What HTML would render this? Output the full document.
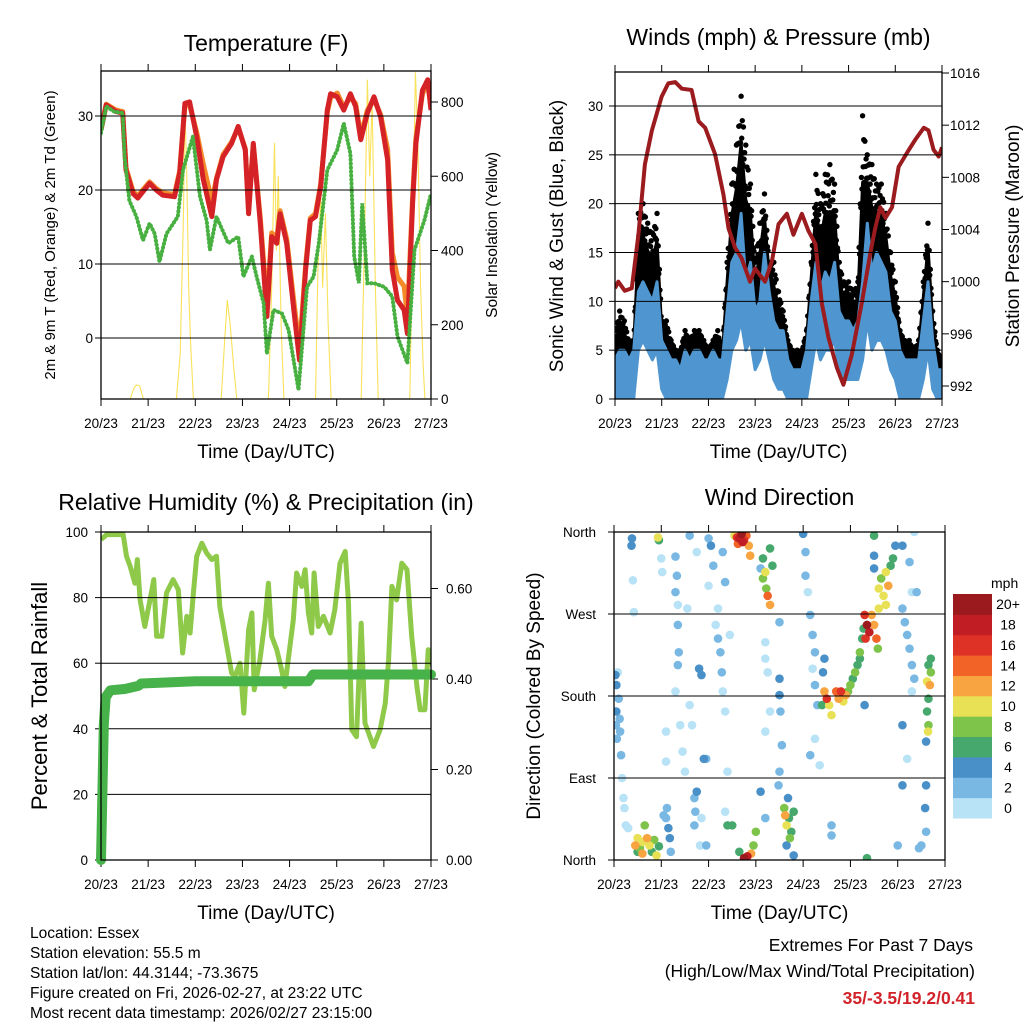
<!DOCTYPE html>
<html><head><meta charset="utf-8"><style>
html,body{margin:0;padding:0;background:#fff;}
svg{display:block;font-family:"Liberation Sans",Arial,sans-serif;}
</style></head><body>
<svg id="root" width="1024" height="1024" viewBox="0 0 1024 1024" xmlns="http://www.w3.org/2000/svg">
<g font-size="15.5" fill="#000">
<text x="30" y="938">Location: Essex</text>
<text x="30" y="958">Station elevation: 55.5 m</text>
<text x="30" y="978">Station lat/lon: 44.3144; -73.3675</text>
<text x="30" y="998">Figure created on Fri, 2026-02-27, at 23:22 UTC</text>
<text x="30" y="1018">Most recent data timestamp: 2026/02/27 23:15:00</text>
</g>
<g font-size="17.5" text-anchor="end">
<text x="973" y="951">Extremes For Past 7 Days</text>
<text x="975" y="977">(High/Low/Max Wind/Total Precipitation)</text>
<text x="975" y="1004" font-weight="bold" fill="#d2232a">35/-3.5/19.2/0.41</text>
</g>
</svg>
<script>
// ---- Temperature data ----
const redT=[0,0.11,0.32,0.46,0.53,0.68,0.78,1.03,1.17,1.31,1.56,1.67,1.78,1.88,2.03,2.17,2.35,2.45,2.59,2.77,2.91,3.06,3.13,3.23,3.38,3.52,3.62,3.73,3.80,3.94,4.09,4.21,4.34,4.44,4.55,4.66,4.80,4.87,5.01,5.15,5.29,5.40,5.51,5.65,5.79,5.93,6.08,6.18,6.29,6.43,6.50,6.61,6.68,6.82,6.93,7.0];
const redV=[28.1,31.5,30.6,30.4,22.7,19.5,18.9,20.9,20,19.3,19.1,22.3,31.7,31.9,27.2,21.4,16.4,21.4,24.5,26.3,28.6,25.4,16.8,26.3,15.5,2.9,13.7,12.8,16.8,12.8,3.8,-3,9.2,15.9,16.4,20.5,30.8,33,32.6,30.8,33,31.3,26.8,30.4,32.6,29.9,24.1,9.2,5.1,3.8,0.6,18.2,26.3,33.5,34.9,30.8];
const orangeV=[28.3,31.6,30.8,30.6,23,19.8,19.2,21.1,20.2,19.6,19.4,22.6,31.4,31.5,27.8,23.5,18.5,21.6,24.8,26.5,28.4,25.6,17.5,26.1,16.2,4.5,14.2,13.5,17.2,13.4,5,-1.5,9.8,16.2,16.8,20.8,30.5,32.5,33.1,31.2,32.5,31.7,27.3,30.8,32.2,30.2,25.5,11.5,8.2,7,3,19,27,33,34.5,31];
const tdT=[0,0.11,0.28,0.46,0.5,0.6,0.75,0.89,1.03,1.14,1.24,1.39,1.63,1.74,1.95,2.1,2.24,2.31,2.45,2.7,2.91,3.02,3.2,3.3,3.45,3.52,3.66,3.84,3.98,4.19,4.37,4.51,4.62,4.8,5.01,5.15,5.29,5.37,5.47,5.54,5.65,5.79,6.01,6.18,6.29,6.5,6.65,6.86,7.0];
const tdV=[27.7,31.3,30.6,30.4,24.5,18.6,16.4,13.2,15.5,14.1,10.3,14.1,16.4,22.7,27.2,19.1,15.9,11.9,16.4,12.8,13.7,8.3,11,8.3,4.7,-2.1,3.8,3.3,1.1,-7,6.9,8.3,12.8,22.7,25.4,29,24.9,11,7.4,18.2,7.4,7.4,6.9,5.6,0.2,-3.4,11.9,15.9,19.5];
const solarT=[0,0.62,0.7,0.75,0.82,0.9,1.6,1.68,1.75,1.78,1.82,1.86,1.9,1.96,2.55,2.62,2.68,2.74,2.82,2.88,3.55,3.62,3.68,3.72,3.76,3.82,3.88,4.55,4.6,4.66,4.7,4.76,4.82,4.88,5.52,5.6,5.65,5.7,5.75,5.82,5.88,6.55,6.62,6.67,6.72,6.78,6.83,6.87,7];
const solarV=[0,0,30,38,35,0,0,120,500,790,600,300,150,0,0,150,267,200,80,0,0,300,690,400,600,200,0,0,350,545,300,500,200,0,0,500,860,600,800,300,0,0,500,880,700,300,100,0,0];
const tempTicks=[0,10,20,30];
const solarTicks=[0,200,400,600,800];
const dayLabels=["20/23","21/23","22/23","23/23","24/23","25/23","26/23","27/23"];
// ---- Wind data (0.1 day steps) ----
const windHi=[4,5,5,4,5,11,12,11,10,12,6,5,4,4,3,5,4,5,5,4,4,5,4,4,9,14,15,19,12,14,9,10,15,11,8,7,7,4,3,3,3,5,10,14,11,13,12,14,9,8,8,7,8,12,18,13,15,14,13,9,8,5,4,4,4,4,8,12,6,3,3];
const windLo=[0,0,0,0,0,5,6,5,4,5,1,0,0,0,0,0,0,0,0,0,0,0,0,0,2,5,6,8,5,6,3,4,6,4,2,1,1,0,0,0,0,0,3,6,4,5,5,6,3,2,2,2,2,4,8,5,6,6,5,3,2,0,0,0,0,0,2,5,1,0,0];
const gustHi=[7,9,8,6,6,19,20,18,17,19,8,8,6,5,5,7,6,7,7,6,5,6,7,5,14,22,26,31,26,22,14,18,21,14,14,11,9,6,5,5,5,7,14,23,20,23,24,22,14,12,12,11,12,29,25,24,22,22,19,15,12,7,6,6,5,6,12,18,9,5,4];
const presT=[0,0.07,0.21,0.36,0.5,0.64,0.79,1.0,1.14,1.29,1.43,1.64,1.79,1.93,2.14,2.32,2.43,2.57,2.71,2.89,3.0,3.21,3.36,3.5,3.68,3.82,4.0,4.14,4.29,4.43,4.57,4.75,4.89,5.07,5.29,5.46,5.57,5.68,5.79,5.93,6.07,6.29,6.43,6.61,6.71,6.82,6.93,7.0];
const presV=[999.5,1000,999.3,999.5,1003.6,1009,1011.6,1014.2,1015.2,1015.3,1014.8,1014.7,1012.3,1011.8,1009.8,1006.7,1004.1,1002.6,1001.8,1000,1001,1000,1001.6,1004.4,1005.2,1003.6,1005.2,1003.9,1002.9,998.3,995.7,993.4,992.1,994.4,998.5,1002.1,1004.1,1005.7,1004.9,1005.7,1008.8,1010.1,1010.9,1011.8,1011.6,1010.1,1009.6,1010.3];
const windTicks=[0,5,10,15,20,25,30];
const presTicks=[992,996,1000,1004,1008,1012,1016];
// ---- RH / precip ----
const rhT=[0,0.12,0.47,0.54,0.62,0.72,0.77,0.83,0.93,1.04,1.12,1.18,1.29,1.39,1.53,1.64,1.73,1.82,1.89,1.96,2.03,2.14,2.24,2.35,2.45,2.52,2.67,2.77,2.84,2.95,3.03,3.13,3.2,3.25,3.37,3.48,3.55,3.62,3.73,3.83,3.9,3.97,4.08,4.15,4.26,4.33,4.4,4.47,4.52,4.61,4.72,4.86,4.96,5.07,5.18,5.25,5.32,5.42,5.52,5.6,5.78,5.92,6.03,6.1,6.17,6.27,6.38,6.49,6.59,6.7,6.77,6.87,6.94,6.98];
const rhV=[97.7,99.2,99.2,92.6,89.5,84.4,91.6,79.3,71.2,79.3,85.5,68.2,68.2,81.4,85.5,82.4,63.1,74.3,69.2,81.4,92.6,96.6,93.6,91.6,92.6,77.3,65.1,57,56,60,44.8,70.2,75.3,51.9,61,73.2,84.4,68.2,64.1,58,52.9,61,73.2,87.5,83.4,88.5,75.3,69.2,87.5,71.2,74.3,69.2,76.3,90.5,94.1,78.3,39.7,37.6,72.2,41.7,34.6,39.7,47.8,61,83.4,79.3,90.5,88.5,68.2,52.9,45.8,45.8,64.1,59];
const precipT=[0,0.03,0.06,0.1,0.2,0.5,0.8,0.85,1.5,2,4.4,4.5,7];
const precipV=[0,0.15,0.3,0.36,0.375,0.378,0.385,0.39,0.393,0.395,0.395,0.41,0.41];
const rhTicks=[0,20,40,60,80,100];
const precipTicks=[0,0.2,0.4,0.6];
// ---- Wind direction ----
const dirT=[0.03,0.05,0.05,0.04,0.06,0.1,0.12,0.15,0.17,0.2,0.22,0.25,0.08,0.13,0.45,0.5,0.55,0.6,0.65,0.7,0.75,0.8,0.85,0.9,0.95,0.6,0.5,0.93,0.95,0.38,0.37,0.4,0.42,1.0,1.02,1.3,1.33,1.3,1.35,1.35,1.37,1.35,1.3,1.4,1.45,1.5,1.1,1.1,1.12,1.1,1.15,1.18,1.2,1.05,1.55,1.6,1.65,1.7,1.72,1.75,1.7,1.8,1.85,1.9,1.85,1.82,1.95,1.95,1.6,1.75,2.0,2.05,2.0,2.1,2.15,2.2,2.25,2.28,2.3,2.35,2.2,2.3,2.35,2.4,2.35,2.4,2.55,2.6,2.65,2.7,2.75,2.8,2.85,2.88,2.62,2.72,2.75,2.82,2.9,2.95,2.65,2.5,3.0,3.15,3.2,3.15,3.22,3.25,3.3,3.3,3.35,3.1,3.2,3.2,3.25,3.3,3.2,3.1,3.2,3.5,3.5,3.52,3.55,3.5,3.48,3.5,3.6,3.62,3.65,3.7,3.75,3.72,3.8,3.65,3.8,3.68,4.0,4.05,4.05,4.1,4.15,4.2,4.25,4.2,4.25,4.3,4.25,4.15,4.35,4.45,4.42,4.45,4.5,4.55,4.6,4.7,4.75,4.8,4.85,4.9,4.95,5.0,5.05,5.1,5.15,5.2,5.2,5.25,4.4,5.3,5.3,5.35,5.4,5.32,5.45,5.5,5.55,5.6,5.58,5.28,5.6,5.7,5.75,5.65,5.8,5.85,5.9,5.5,5.5,5.5,5.75,5.95,6.1,6.15,6.2,6.25,6.3,6.35,6.3,6.1,6.2,6.1,6.35,6.25,6.3,6.4,6.1,6.0,6.45,5.35,6.65,6.7,6.62,6.68,6.7,6.65,6.62,6.65,6.64,6.6,6.6,6.58,6.6,4.6,4.6,0.3,2.45,6.5];
const dirV=[203,192,163,148,133,177,155,115,90,68,57,38,206,141,16,24,13,20,38,24,16,9,22,5,15,7,9,354,351,353,345,307,272,331,316,333,312,294,280,258,228,214,185,148,119,97,141,108,57,46,35,24,9,49,276,170,148,68,53,75,38,210,203,111,46,16,111,16,356,338,353,345,301,323,258,243,228,206,185,163,276,338,305,97,53,38,356,354,353,358,351,356,345,334,347,349,2,4,7,16,9,38,31,331,316,309,298,290,280,342,323,320,239,221,206,163,141,75,46,199,181,163,126,97,82,261,57,49,38,46,31,24,53,16,5,68,358,338,312,294,269,247,228,210,192,170,133,115,104,221,206,185,177,170,159,185,177,185,174,181,185,192,199,206,214,221,228,243,170,170,269,258,250,243,269,258,243,276,232,254,298,290,280,309,301,323,331,320,334,356,316,345,276,261,247,232,214,199,185,148,111,82,360,327,294,294,345,16,13,2,214,206,196,192,221,177,163,148,141,130,82,57,31,38,27,35,247,16];
const dirS=[4,4,4,3,3,2,2,2,1,1,1,1,1,3,12,10,8,10,8,12,10,6,8,10,6,12,6,10,6,4,4,1,1,1,1,3,2,2,1,2,2,3,1,1,1,1,1,1,2,3,4,4,2,2,0,1,1,3,3,4,2,4,4,4,1,1,2,3,2,1,3,4,1,2,1,2,2,2,1,1,0,2,3,1,1,6,10,16,18,20,16,14,12,12,14,18,20,18,12,8,6,6,8,6,10,8,8,14,12,6,6,3,1,1,1,1,1,4,3,4,4,2,3,2,3,3,8,12,10,6,6,8,6,4,4,4,4,2,2,1,2,2,2,1,2,2,1,2,1,4,4,12,16,10,10,14,12,16,10,12,8,8,6,8,6,6,8,6,6,4,16,20,18,16,12,12,14,10,8,6,10,10,10,8,12,6,6,4,4,6,10,4,2,3,2,3,2,3,1,4,1,4,1,2,1,3,4,2,2,6,6,8,10,12,6,6,6,8,10,4,4,4,2,3,3,1,1,2];
const speedColors=["#b8e2f6","#7ab8e4","#4a90c8","#46a86c","#7ec34a","#e8e155","#f8a541","#f26328","#de3227","#c01d25","#9a1a1e"];
const speedLabels=["0","2","4","6","8","10","12","14","16","18","20+"];
const dirTicks=[0,90,180,270,360];
const dirTickLabels=["North","East","South","West","North"];

const NS="http://www.w3.org/2000/svg";
const root=document.getElementById('root');
function el(tag,attrs,parent){const e=document.createElementNS(NS,tag);for(const k in attrs)e.setAttribute(k,attrs[k]);(parent||root).appendChild(e);return e;}
function txt(s,attrs,parent){const e=el('text',attrs,parent);e.textContent=s;return e;}
function lin(d0,d1,r0,r1){return v=>r0+(v-d0)*(r1-r0)/(d1-d0);}
function path(xs,ys,sx,sy){let d='';for(let i=0;i<xs.length;i++)d+=(i?'L':'M')+sx(xs[i]).toFixed(1)+','+sy(ys[i]).toFixed(1);return d;}

function panel(name,x0,y0,x1,y1,title,titleY){
  const g=el('g',{});
  
  
  const cp=el('clipPath',{id:name+'-clip'},g);
  el('rect',{x:x0,y:y0,width:x1-x0,height:y1-y0},cp);
  const t=txt(title,{x:(x0+x1)/2,y:titleY,'text-anchor':'middle','font-size':23},g);
  
  
  const sx=lin(0,7,x0,x1);
  for(let i=0;i<dayLabels.length;i++){
    const x=sx(i);
    el('line',{x1:x,y1:y1,x2:x,y2:y1+7,stroke:'#000','stroke-width':1},g);
    el('line',{x1:x,y1:y0,x2:x,y2:y0-7,stroke:'#000','stroke-width':1},g);
    const l=txt(dayLabels[i],{x:x,y:y1+29,'text-anchor':'middle','font-size':13.5},g);
    
    
  }
  const xt=txt('Time (Day/UTC)',{x:(x0+x1)/2,y:y1+59,'text-anchor':'middle','font-size':19},g);
  
  
  const data=el('g',{'clip-path':'url(#'+name+'-clip)'},g);
  return {g,sx,data,x0,y0,x1,y1};
}
function frame(p){el('rect',{x:p.x0,y:p.y0,width:p.x1-p.x0,height:p.y1-p.y0,fill:'none',stroke:'#000','stroke-width':1.3},p.g);}
function leftTicks(p,vals,labels,sy,grid,lx){
  vals.forEach((v,i)=>{const y=sy(v);
    if(grid && y>p.y0+1 && y<p.y1-1) el('line',{x1:p.x0,y1:y,x2:p.x1,y2:y,stroke:'#000','stroke-width':1},p.g);
    el('line',{x1:p.x0-6,y1:y,x2:p.x0,y2:y,stroke:'#000'},p.g);
    const t=txt(labels[i],{x:lx,y:y+5,'text-anchor':'end','font-size':13.5},p.g);
    
    
  });
}
function rightTicks(p,vals,labels,sy,lx){
  vals.forEach((v,i)=>{const y=sy(v);
    el('line',{x1:p.x1,y1:y,x2:p.x1+7,y2:y,stroke:'#000'},p.g);
    const t=txt(labels[i],{x:lx,y:y+5,'text-anchor':'start','font-size':13.5},p.g);
    
    
  });
}
function vtitle(p,s,x,y,fs,name){const t=txt(s,{x:0,y:0,'text-anchor':'middle','font-size':fs,transform:'translate('+x+','+y+') rotate(-90)'},p.g);
  
  }

// ===== Temperature panel =====
{
 const p=panel('temperature-panel',101,71,431,399,'Temperature (F)',51);
 const sy=lin(0,30,338,116), sy2=lin(0,800,399,102);
 leftTicks(p,tempTicks,tempTicks.map(String),sy,true,93);
 rightTicks(p,solarTicks,solarTicks.map(String),sy2,441);
 vtitle(p,'2m & 9m T (Red, Orange) & 2m Td (Green)',55,235,15,'temperature-y-axis-title');
 vtitle(p,'Solar Insolation (Yellow)',497,235,15.5,'solar-y-axis-title');
 const s=el('path',{d:path(solarT,solarV,p.sx,sy2),fill:'none',stroke:'#f9e25a','stroke-width':1.1},p.data);
 
 
 const o=el('path',{d:path(redT,orangeV,p.sx,sy),fill:'none',stroke:'#f58a2a','stroke-width':5,'stroke-linejoin':'round'},p.data);
 
 
 const r=el('path',{d:path(redT,redV,p.sx,sy),fill:'none',stroke:'#d42227','stroke-width':5,'stroke-linejoin':'round'},p.data);
 
 
 const d=el('path',{d:path(tdT,tdV,p.sx,sy),fill:'none',stroke:'#48b041','stroke-width':4,'stroke-dasharray':'0.5,3.5','stroke-linecap':'round'},p.data);
 
 
 frame(p);
}
// ===== Winds panel =====
{
 const p=panel('winds-panel',615,72,942,399,'Winds (mph) & Pressure (mb)',45);
 const sy=lin(0,30,399,106), sy2=lin(992,1016,386,73);
 leftTicks(p,windTicks,windTicks.map(String),sy,true,603);
 rightTicks(p,presTicks,presTicks.map(String),sy2,950);
 vtitle(p,'Sonic Wind & Gust (Blue, Black)',563,236,19,'wind-y-axis-title');
 vtitle(p,'Station Pressure (Maroon)',1019,236,19,'pressure-y-axis-title');
 const n=windHi.length, tt=i=>i*7/(n-1);
 // dense black band
 let gb='';
 for(let i=0;i<n;i++)gb+=(i?'L':'M')+p.sx(tt(i)).toFixed(1)+','+sy(windHi[i]+(gustHi[i]-windHi[i])*0.6).toFixed(1);
 for(let i=n-1;i>=0;i--)gb+='L'+p.sx(tt(i)).toFixed(1)+','+sy(Math.max(0,windHi[i]-1)).toFixed(1);
 const gbe=el('path',{d:gb+'Z',fill:'#000',stroke:'#000','stroke-width':3,'stroke-linejoin':'round'},p.data);
 
 
 for(let i=0;i<n-1;i++){
  for(let k=0;k<8;k++){
   const t=tt(i)+k*0.0125;
   const fr=[1,0.7,0.9,0.6,0.95,0.75,0.85,0.65][k];
   const g=gustHi[i]+(gustHi[i+1]-gustHi[i])*k/8;
   const w=windHi[i]+(windHi[i+1]-windHi[i])*k/8;
   const c=el('circle',{cx:p.sx(t),cy:sy(w+(g-w)*fr),r:2.7,fill:'#000'},p.data);
   
   
  }
 }
 let d='';
 for(let i=0;i<n;i++)d+=(i?'L':'M')+p.sx(tt(i)).toFixed(1)+','+sy(windHi[i]).toFixed(1);
 for(let i=n-1;i>=0;i--)d+='L'+p.sx(tt(i)).toFixed(1)+','+sy(windLo[i]).toFixed(1);
 const b=el('path',{d:d+'Z',fill:'#4f96d0',stroke:'#4f96d0','stroke-width':3,'stroke-linejoin':'round'},p.data);
 
 
 const pr=el('path',{d:path(presT,presV,p.sx,sy2),fill:'none',stroke:'#9b1b1e','stroke-width':4,'stroke-linejoin':'round'},p.data);
 
 
 frame(p);
}
// ===== RH panel =====
{
 const p=panel('humidity-panel',101,532,431,860,'Relative Humidity (%) & Precipitation (in)',510);
 const sy=lin(0,100,860,532), sy2=lin(0,0.6,860,588.5);
 leftTicks(p,rhTicks,rhTicks.map(String),sy,true,88);
 rightTicks(p,precipTicks,precipTicks.map(v=>v.toFixed(2)),sy2,446);
 vtitle(p,'Percent & Total Rainfall',47,696,22,'humidity-y-axis-title');
 const r=el('path',{d:path(rhT,rhV,p.sx,sy),fill:'none',stroke:'#8fc94a','stroke-width':5,'stroke-linejoin':'round'},p.data);
 
 
 const pc=el('path',{d:path(precipT,precipV,p.sx,sy2),fill:'none',stroke:'#47b14a','stroke-width':10,'stroke-linejoin':'round','stroke-linecap':'round'},p.g);
 
 
 frame(p);
}
// ===== Wind direction panel =====
{
 const p=panel('wind-direction-panel',614,532,945,860,'Wind Direction',505);
 const sy=lin(0,360,860,532);
 leftTicks(p,dirTicks,dirTickLabels,sy,true,596);
 vtitle(p,'Direction (Colored By Speed)',540,696,19,'direction-y-axis-title');
 const idx=dirT.map((_,i)=>i).sort((a,b)=>dirS[a]-dirS[b]);
 idx.forEach(i=>{
  const ci=Math.min(10,Math.floor(dirS[i]/2));
  const c=el('circle',{cx:p.sx(dirT[i]),cy:sy(dirV[i]),r:4.3,fill:speedColors[ci]},p.data);
  
  
 });
 frame(p);
 const cb=el('g',{});
 
 
 const h=224/11;
 txt('mph',{x:991,y:588,'font-size':14,'text-anchor':'start'},cb);
 for(let k=0;k<11;k++){
  const y=594+(10-k)*h;
  const r=el('rect',{x:953,y:y,width:39,height:h+0.5,fill:speedColors[k]},cb);
  
  
  const l=txt(speedLabels[k],{x:1008,y:y+h/2+5,'font-size':14,'text-anchor':'middle'},cb);
  
  
 }
}
</script>
</body></html>
